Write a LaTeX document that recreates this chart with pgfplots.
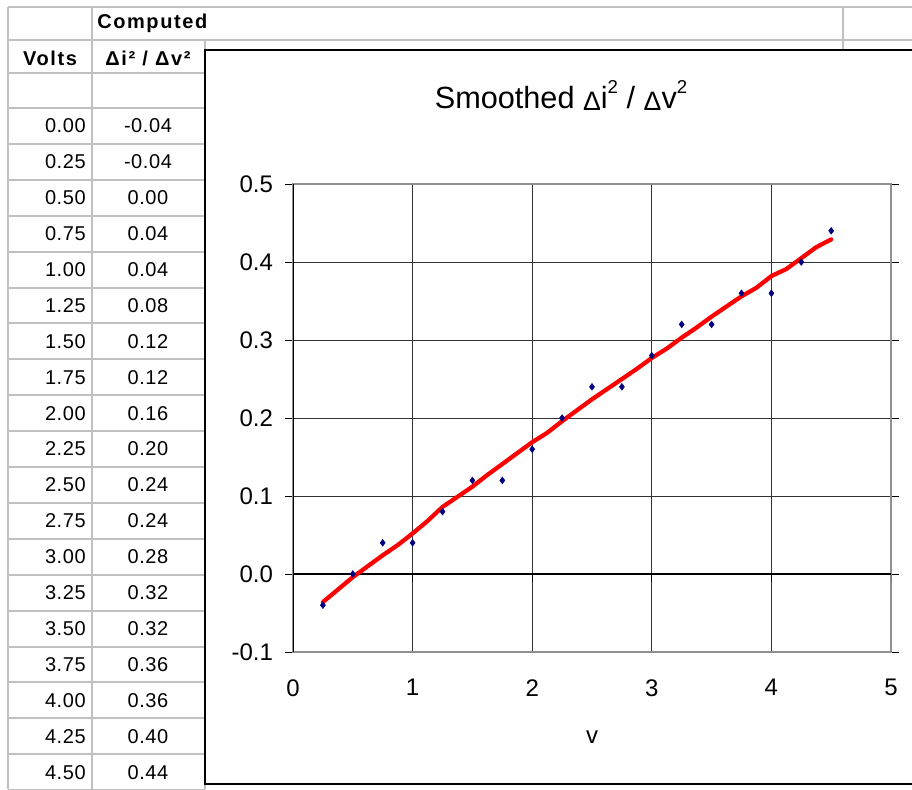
\documentclass[border=0pt]{standalone}
\usepackage{pgfplots}
\pgfplotsset{compat=1.18}
\usepackage{pgfplotstable}
\usepackage{fontspec}
\setmainfont{Liberation Sans}
\definecolor{gridgray}{HTML}{C0C0C0}
\definecolor{navy}{HTML}{000080}
\definecolor{plotborder}{HTML}{909090}

\pgfplotstableread{
v d
0.25 -0.04
0.50 0.00
0.75 0.04
1.00 0.04
1.25 0.08
1.50 0.12
1.75 0.12
2.00 0.16
2.25 0.20
2.50 0.24
2.75 0.24
3.00 0.28
3.25 0.32
3.50 0.32
3.75 0.36
4.00 0.36
4.25 0.40
4.50 0.44
}\pointsdata

\pgfplotstableread{
v s
0.25 -0.036
0.375 -0.020
0.5 -0.004
0.625 0.010
0.75 0.024
0.875 0.037
1.0 0.052
1.125 0.068
1.25 0.086
1.375 0.099
1.5 0.112
1.625 0.127
1.75 0.141
1.875 0.155
2.0 0.169
2.125 0.181
2.25 0.196
2.375 0.210
2.5 0.224
2.625 0.237
2.75 0.250
2.875 0.263
3.0 0.277
3.125 0.289
3.25 0.303
3.375 0.316
3.5 0.330
3.625 0.343
3.75 0.356
3.875 0.367
4.0 0.382
4.125 0.391
4.25 0.405
4.375 0.419
4.5 0.429
}\smoothdata

\newcommand{\cellfont}{\fontsize{15}{17}\selectfont\addfontfeatures{LetterSpace=3}}
\newcommand{\headfont}{\fontsize{15}{17}\selectfont\bfseries\addfontfeatures{LetterSpace=8}}
\newcommand{\tdelta}{\raisebox{-2pt}{\fontsize{20}{20}\selectfont Δ}}

\begin{document}
\begin{tikzpicture}
\begin{scope}[x=0.75pt,y=-0.75pt]
\useasboundingbox (0,0) rectangle (912,789);
\fill[white] (0,0) rectangle (912,789);
% spreadsheet grid
\begin{scope}[draw=gridgray, line width=1.5pt]
\draw (8,7) -- (912,7);
\draw (8,40) -- (912,40);
\draw (8,73) -- (205,73);
\foreach \k in {0,...,19} \draw (8,{108+35.9*\k}) -- (205,{108+35.9*\k});
\draw (8,7) -- (8,789);
\draw (92,7) -- (92,789);
\draw (205,40) -- (205,789);
\draw (843,7) -- (843,60);
\end{scope}
% header text
\node[anchor=west, inner sep=0pt] at (97,23) {\headfont Computed};
\node at (50,58) {\headfont Volts};
\node at (148,58) {\headfont Δi² / Δv²};
% data cells
\foreach \vv/\dd [count=\k from 0] in {0.00/-0.04,0.25/-0.04,0.50/0.00,0.75/0.04,1.00/0.04,1.25/0.08,1.50/0.12,1.75/0.12,2.00/0.16,2.25/0.20,2.50/0.24,2.75/0.24,3.00/0.28,3.25/0.32,3.50/0.32,3.75/0.36,4.00/0.36,4.25/0.40,4.50/0.44}{
  \node[anchor=east, inner sep=0pt] at (86,{126+35.9*\k}) {\cellfont\vv};
  \node at (148,{126+35.9*\k}) {\cellfont\dd};
}
% chart box
\draw[black, fill=white, line width=0.9pt] (205,50) rectangle (940,784);
% title
\node[anchor=base, font=\fontsize{23}{26}\selectfont] at (561,108) {Smoothed \tdelta i\raisebox{11pt}{\fontsize{14}{14}\selectfont 2} / \tdelta v\raisebox{11pt}{\fontsize{14}{14}\selectfont 2}};
\end{scope}

\begin{axis}[
  at={(219.75pt,-489pt)}, anchor=south west,
  scale only axis, width=448.5pt, height=351pt,
  xmin=0, xmax=5, ymin=-0.1, ymax=0.5,
  xtick={0,1,2,3,4,5},
  ytick={-0.1,0,0.1,0.2,0.3,0.4,0.5},
  grid=major,
  grid style={black!80, line width=0.75pt},
  axis line style={draw=plotborder, line width=1.5pt},
  tick align=outside,
  major tick length=6pt,
  xtick style={draw=none},
  ytick style={black, line width=0.75pt},
  /pgf/number format/assume math mode=true,
  yticklabel style={/pgf/number format/fixed, /pgf/number format/fixed zerofill, /pgf/number format/precision=1, xshift=-5.5pt},
  xticklabel style={yshift=-11pt},
  ticklabel style={font=\fontsize{18}{20}\selectfont},
  xlabel={v},
  xlabel style={at={(axis description cs:0.5,-0.1816)}, anchor=center, font=\fontsize{18}{20}\selectfont},
]
\draw[black, line width=0.9pt] (axis cs:0,0) -- (axis cs:5,0);
\draw[black, line width=1pt] (rel axis cs:0,0) -- (rel axis cs:0,1);
\pgfplotsinvokeforeach{0,1,2,3,4,5}{\draw[black, line width=0.75pt] (axis cs:#1,0) -- ++(0pt,-6pt);}
\addplot[only marks, mark=diamond*, mark size=2.5pt, color=navy] table[x=v, y=d] {\pointsdata};
\addplot[red, line width=3.2pt, line join=round, line cap=round] table[x=v, y=s] {\smoothdata};
\end{axis}
\end{tikzpicture}
\end{document}
